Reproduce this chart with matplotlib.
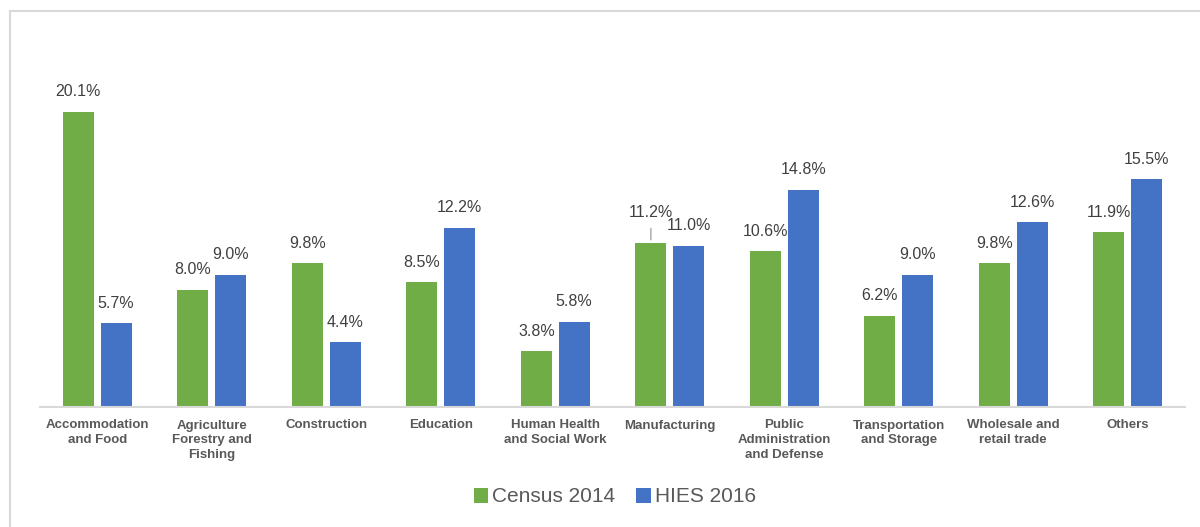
import matplotlib.pyplot as plt
from matplotlib.patches import Rectangle
import numpy as np

plt.rcParams['font.family'] = ['Liberation Sans', 'DejaVu Sans']

# Employment share by sector
sectors = ['Accommodation\nand Food', 'Agriculture\nForestry and\nFishing', 'Construction',
           'Education', 'Human Health\nand Social Work', 'Manufacturing',
           'Public\nAdministration\nand Defense', 'Transportation\nand Storage',
           'Wholesale and\nretail trade', 'Others']
census_2014 = [20.1, 8.0, 9.8, 8.5, 3.8, 11.2, 10.6, 6.2, 9.8, 11.9]
hies_2016 = [5.7, 9.0, 4.4, 12.2, 5.8, 11.0, 14.8, 9.0, 12.6, 15.5]

green = '#70AD47'
blue = '#4472C4'
label_col = '#404040'
tick_col = '#595959'

fig = plt.figure(figsize=(12, 5.27), dpi=100)
# light frame around the chart area
fig.patches.append(Rectangle((10 / 1200, -0.1), 1.2, 1 - 11 / 527 + 0.1,
                             transform=fig.transFigure, fill=False,
                             edgecolor='#D9D9D9', linewidth=1.5))

ax = fig.add_axes([40 / 1200, 120 / 527, 1145 / 1200, 367 / 527])

x = np.arange(len(sectors))
w = 0.27
off = 0.165
b1 = ax.bar(x - off, census_2014, w, color=green, label='Census 2014')
b2 = ax.bar(x + off, hies_2016, w, color=blue, label='HIES 2016')

for rect, v in zip(b1, census_2014):
    cx = rect.get_x() + rect.get_width() / 2
    if v == 11.2:
        # pushed up to clear the neighbouring label, with a leader line
        ax.annotate(f'{v:.1f}%', (cx, v), xytext=(0, 16), textcoords='offset points',
                    ha='center', va='bottom', fontsize=11.5, color=label_col)
        ax.annotate('', (cx, v), xytext=(cx, v + 1.15),
                    arrowprops=dict(arrowstyle='-', color='#A6A6A6', lw=1))
    else:
        ax.annotate(f'{v:.1f}%', (cx, v), xytext=(0, 9), textcoords='offset points',
                    ha='center', va='bottom', fontsize=11.5, color=label_col)
for rect, v in zip(b2, hies_2016):
    cx = rect.get_x() + rect.get_width() / 2
    ax.annotate(f'{v:.1f}%', (cx, v), xytext=(0, 9), textcoords='offset points',
                ha='center', va='bottom', fontsize=11.5, color=label_col)

ax.set_xlim(-0.5, len(sectors) - 0.5)
ax.set_ylim(0, 25)
ax.set_yticks([])
ax.set_xticks(x)
ax.set_xticklabels(sectors, fontsize=9.5, fontweight='bold', color=tick_col,
                   linespacing=1.3)
ax.tick_params(axis='x', length=0, pad=9)
for s in ['top', 'right', 'left']:
    ax.spines[s].set_visible(False)
ax.spines['bottom'].set_color('#D9D9D9')
ax.spines['bottom'].set_linewidth(1.5)

leg = fig.legend(handles=[b1, b2], loc='center', bbox_to_anchor=(615 / 1200, 1 - 497 / 527),
                 ncol=2, frameon=False, fontsize=15, handlelength=0.7, handleheight=0.7,
                 handletextpad=0.2, columnspacing=1.0)
for t in leg.get_texts():
    t.set_color(tick_col)

fig.savefig('out.png', dpi=100)
